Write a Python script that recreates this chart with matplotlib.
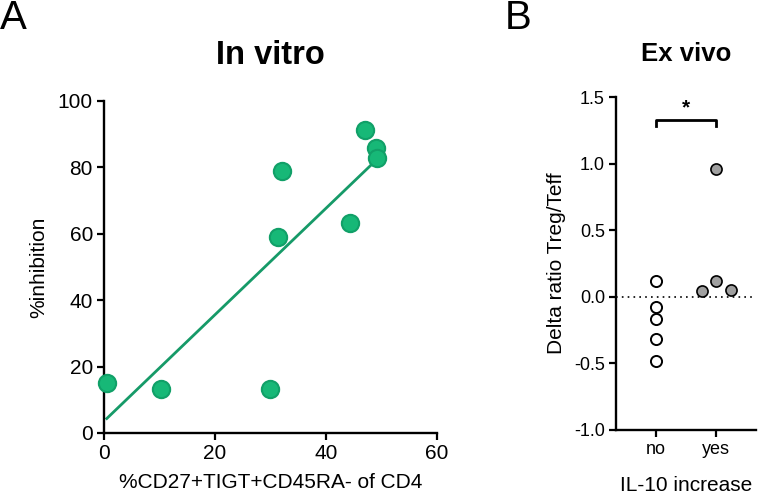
import matplotlib
matplotlib.use("Agg")
import matplotlib.pyplot as plt
import numpy as np

plt.rcParams['font.family'] = ['Liberation Sans', 'DejaVu Sans']

# Panel A: in vitro data
cd27_pct = [0.5, 10.3, 29.9, 31.4, 32.0, 44.3, 47.1, 49.0, 49.1]
inhibition = [15.2, 13.2, 13.3, 59.1, 78.9, 63.3, 91.3, 85.8, 82.7]

# Panel B: ex vivo data
groups = ["no", "yes"]
delta_no = [0.12, -0.08, -0.17, -0.32, -0.48]
delta_yes = [0.96, 0.12, 0.04, 0.05]
yes_offsets = [0.0, 0.0, -0.23, 0.25]

green = "#17b877"
green_edge = "#11a068"
line_green = "#169a68"

fig = plt.figure(figsize=(7.59, 5.01), dpi=100)
W, H = 759, 501

def px_axes(left, top, right, bottom):
    return fig.add_axes([left / W, 1 - bottom / H, (right - left) / W, (bottom - top) / H])

def style(ax, size):
    for s in ['top', 'right']:
        ax.spines[s].set_visible(False)
    for s in ['left', 'bottom']:
        ax.spines[s].set_linewidth(1.7)
    ax.tick_params(direction='out', length=5, width=1.6, labelsize=size, pad=3)

# ---------------- Panel A ----------------
axA = px_axes(104, 101, 437, 433)
style(axA, 15)
axA.scatter(cd27_pct, inhibition, s=155, color=green, edgecolors=green_edge,
            linewidths=1.5, zorder=3, clip_on=False)
slope, icpt = np.polyfit(cd27_pct, inhibition, 1)
xs = np.array([min(cd27_pct), max(cd27_pct)])
axA.plot(xs, slope * xs + icpt, color=line_green, lw=2, zorder=2)
axA.set_xlim(0, 60)
axA.set_ylim(0, 100)
axA.set_xticks([0, 20, 40, 60])
axA.set_yticks([0, 20, 40, 60, 80, 100])
axA.set_xlabel("%CD27+TIGT+CD45RA- of CD4", fontsize=15, labelpad=7)
axA.set_ylabel("%inhibition", fontsize=15, labelpad=7)
axA.set_title("In vitro", fontsize=23.5, fontweight='bold', pad=27)

# ---------------- Panel B ----------------
axB = px_axes(616, 97, 756, 430)
style(axB, 13)
axB.axhline(0, color='black', lw=1.2, ls=(0, (1, 2.5)), zorder=1, clip_on=False)
axB.plot([0] * len(delta_no), delta_no, 'o', ms=8, mfc='white', mec='black',
         mew=1.4, zorder=3, clip_on=False)
axB.plot(np.array([1.0] * len(delta_yes)) + np.array(yes_offsets), delta_yes, 'o',
         ms=8, mfc='#a0a0a0', mec='black', mew=1.2, zorder=3, clip_on=False)
axB.set_xlim(-0.667, 1.672)
axB.set_ylim(-1.0, 1.5)
axB.set_xticks([0, 1])
axB.set_xticklabels(groups)
axB.set_yticks([-1.0, -0.5, 0.0, 0.5, 1.0, 1.5])
axB.set_yticklabels(["-1.0", "-0.5", "0.0", "0.5", "1.0", "1.5"])
axB.set_xlabel("IL-10 increase", fontsize=15, labelpad=13)
axB.set_ylabel("Delta ratio Treg/Teff", fontsize=15, labelpad=6)
axB.set_title("Ex vivo", fontsize=18.5, fontweight='bold', pad=26)

# significance bracket
axB.plot([0, 0, 1, 1], [1.28, 1.33, 1.33, 1.28], color='black', lw=2, clip_on=False)
axB.text(0.5, 1.35, "*", ha='center', va='bottom', fontsize=15, fontweight='bold')

# panel letters
fig.text(0 / W, 1 - 18 / H, "A", fontsize=29, va='center', ha='left')
fig.text(505 / W, 1 - 18 / H, "B", fontsize=29, va='center', ha='left')

fig.savefig("out.png", dpi=100)
